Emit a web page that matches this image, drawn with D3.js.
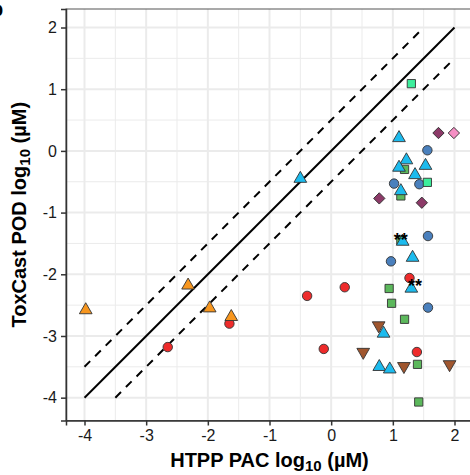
<!DOCTYPE html>
<html>
<head>
<meta charset="utf-8">
<script src="https://cdn.jsdelivr.net/npm/d3@7"></script>
<style>
  body { margin: 0; background: #fff; }
  svg { display: block; }
</style>
</head>
<body>
<svg width="470" height="475"></svg>
<script>
// values (log10 uM): [HTPP PAC, ToxCast POD]
const orangeTri = [[-3.98, -2.58], [-2.32, -2.18], [-1.97, -2.55], [-1.62, -2.69]];
const redCircle = [[-2.65, -3.18], [-1.65, -2.80], [-0.39, -2.35], [0.22, -2.21],
                   [-0.12, -3.21], [1.27, -2.06], [1.39, -3.26]];
const blueCircle = [[1.56, 0.01], [1.02, -0.53], [1.43, -0.54], [1.57, -1.38],
                    [0.97, -1.79], [1.57, -2.54]];
const greenSquare = [[1.13, -1.45], [1.19, -0.30], [1.13, -0.73], [0.94, -2.23],
                     [0.98, -2.47], [1.19, -2.73], [1.40, -3.46], [1.42, -4.07]];
const mintSquare = [[1.30, 1.09], [1.56, -0.51]];
const purpleDiamond = [[1.74, 0.29], [0.78, -0.77], [1.47, -0.84]];
const pinkDiamond = [[1.99, 0.29]];
const brownDown = [[0.77, -2.83], [0.52, -3.26], [1.18, -3.49], [1.92, -3.46]];
const skyTri = [[-0.50, -0.45], [1.10, 0.21], [1.22, -0.15], [1.10, -0.27], [1.53, -0.24],
                [1.36, -0.39], [1.13, -0.65], [1.16, -1.47], [1.32, -1.73], [1.30, -2.23],
                [0.85, -2.96], [0.78, -3.50], [0.95, -3.54]];

// significance marks [x, y, label]
const stars = [[1.13, -1.38, '**'], [1.36, -2.13, '**']];

// reference lines y = x + offset, over the range
const lineOffsets = [0, 0.5, -0.5];
const lineRange = [-4, 2];

const xTicks = [-4, -3, -2, -1, 0, 1, 2];
const yTicks = [-4, -3, -2, -1, 0, 1, 2];
const minorTicks = [-3.5, -2.5, -1.5, -0.5, 0.5, 1.5];

// drawing order and look of each group
const groups = [
  { data: redCircle, type: d3.symbolCircle, size: 70, rot: 0, fill: '#ee2b2b' },
  { data: blueCircle, type: d3.symbolCircle, size: 70, rot: 0, fill: '#4a80bd' },
  { data: greenSquare, type: d3.symbolSquare, size: 68, rot: 0, fill: '#5cb85c' },
  { data: mintSquare, type: d3.symbolSquare, size: 68, rot: 0, fill: '#3cee9c' },
  { data: purpleDiamond, type: d3.symbolSquare, size: 64, rot: 45, fill: '#8c3a68' },
  { data: pinkDiamond, type: d3.symbolSquare, size: 64, rot: 45, fill: '#f58fc4' },
  { data: brownDown, type: d3.symbolTriangle, size: 70, rot: 180, fill: '#a0562e' },
  { data: orangeTri, type: d3.symbolTriangle, size: 70, rot: 0, fill: '#f7961e' },
  { data: skyTri, type: d3.symbolTriangle, size: 70, rot: 0, fill: '#1cbbee' }
];

const svg = d3.select('svg');
const pLeft = 66, pRight = 473, pTop = 9, pBottom = 420.5;

const x = d3.scaleLinear().domain([-4.3, 2.3]).range([pLeft, pRight]);
const y = d3.scaleLinear().domain([-4.37, 2.3]).range([pBottom, pTop]);

// grid
const grid = svg.append('g');
grid.selectAll('.vmin').data(minorTicks).join('line')
  .attr('x1', d => x(d)).attr('x2', d => x(d)).attr('y1', pTop).attr('y2', pBottom)
  .attr('stroke', '#ebebeb').attr('stroke-width', 1);
grid.selectAll('.hmin').data(minorTicks).join('line')
  .attr('y1', d => y(d)).attr('y2', d => y(d)).attr('x1', pLeft).attr('x2', pRight)
  .attr('stroke', '#ebebeb').attr('stroke-width', 1);
grid.selectAll('.vmaj').data(xTicks).join('line')
  .attr('x1', d => x(d)).attr('x2', d => x(d)).attr('y1', pTop).attr('y2', pBottom)
  .attr('stroke', '#ebebeb').attr('stroke-width', 2);
grid.selectAll('.hmaj').data(yTicks).join('line')
  .attr('y1', d => y(d)).attr('y2', d => y(d)).attr('x1', pLeft).attr('x2', pRight)
  .attr('stroke', '#ebebeb').attr('stroke-width', 2);

svg.append('rect')
  .attr('x', pLeft).attr('y', pTop).attr('width', pRight - pLeft).attr('height', pBottom - pTop)
  .attr('fill', 'none').attr('stroke', '#555').attr('stroke-width', 1);

// reference lines
svg.append('g').selectAll('line').data(lineOffsets).join('line')
  .attr('x1', o => x(Math.max(lineRange[0], lineRange[0] - o)))
  .attr('y1', o => y(Math.max(lineRange[0], lineRange[0] - o) + o))
  .attr('x2', o => x(Math.min(lineRange[1], lineRange[1] - o)))
  .attr('y2', o => y(Math.min(lineRange[1], lineRange[1] - o) + o))
  .attr('stroke', '#000').attr('stroke-width', 2)
  .attr('stroke-dasharray', o => o === 0 ? null : '8,7');

// points
groups.forEach(g => {
  const sym = d3.symbol().type(g.type).size(g.size);
  svg.append('g').selectAll('path').data(g.data).join('path')
    .attr('d', sym)
    .attr('transform', d => `translate(${x(d[0])},${y(d[1])}) rotate(${g.rot})`)
    .attr('fill', g.fill).attr('stroke', '#333').attr('stroke-width', 0.9);
});

svg.append('g').selectAll('text').data(stars).join('text')
  .attr('x', d => x(d[0])).attr('y', d => y(d[1]) + 10)
  .attr('text-anchor', 'middle')
  .attr('font-family', 'Liberation Sans, Arial, sans-serif')
  .attr('font-weight', 'bold').attr('font-size', 18)
  .text(d => d[2]);

// axes
const xAxis = svg.append('g').attr('transform', `translate(0,${pBottom})`)
  .call(d3.axisBottom(x).tickValues(xTicks).tickSize(5).tickPadding(4));
const yAxis = svg.append('g').attr('transform', `translate(${pLeft},0)`)
  .call(d3.axisLeft(y).tickValues(yTicks).tickSize(5).tickPadding(4));

[xAxis, yAxis].forEach(a => {
  a.select('.domain').attr('stroke', '#333').attr('stroke-width', 1.5);
  a.selectAll('.tick line').attr('stroke', '#333').attr('stroke-width', 1.5);
  a.selectAll('.tick text')
    .attr('font-family', 'Liberation Sans, Arial, sans-serif')
    .attr('font-size', 16).attr('fill', '#1a1a1a')
    .text(d => String(d));   // plain hyphen minus like ggplot
});

// titles
const xt = svg.append('text')
  .attr('x', (pLeft + pRight) / 2).attr('y', 467)
  .attr('text-anchor', 'middle')
  .attr('font-family', 'Liberation Sans, Arial, sans-serif')
  .attr('font-weight', 'bold').attr('font-size', 20);
xt.append('tspan').text('HTPP PAC log');
xt.append('tspan').attr('font-size', 15).attr('dy', 4).text('10');
xt.append('tspan').attr('dy', -4).text(' (\u00b5M)');

const yt = svg.append('text')
  .attr('transform', `translate(26,${(pTop + pBottom) / 2}) rotate(-90)`)
  .attr('text-anchor', 'middle')
  .attr('font-family', 'Liberation Sans, Arial, sans-serif')
  .attr('font-weight', 'bold').attr('font-size', 20);
yt.append('tspan').text('ToxCast POD log');
yt.append('tspan').attr('font-size', 15).attr('dy', 4).text('10');
yt.append('tspan').attr('dy', -4).text(' (\u00b5M)');

// panel tag, mostly cut off at the left edge as in the source figure
svg.append('text')
  .attr('x', -9).attr('y', 16)
  .attr('font-family', 'Liberation Sans, Arial, sans-serif')
  .attr('font-weight', 'bold').attr('font-size', 20)
  .text('b');
</script>
</body>
</html>
